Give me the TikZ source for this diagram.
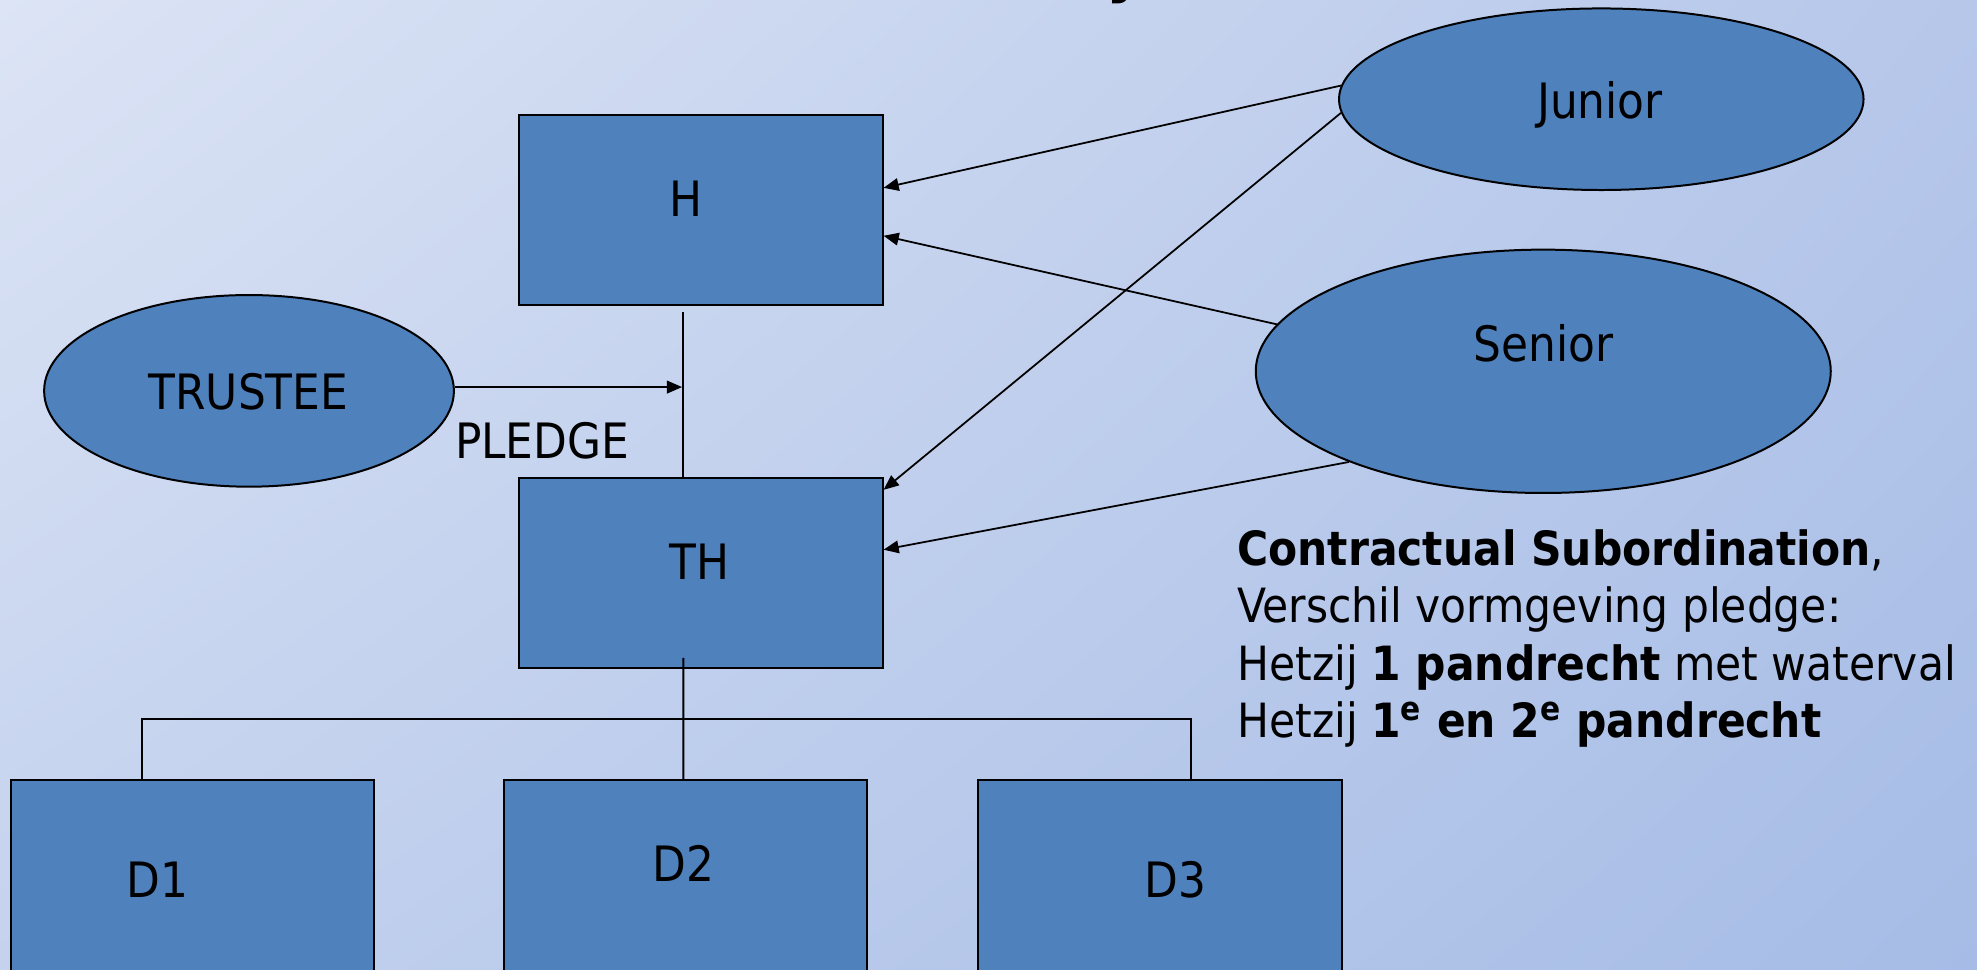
\documentclass[tikz,border=0pt]{standalone}
\usepackage{fontspec}
\setmainfont{DejaVu Sans Condensed}
\usetikzlibrary{shapes.geometric,arrows.meta,shadings}
\definecolor{boxblue}{HTML}{4F81BD}
\definecolor{bgtl}{HTML}{DCE4F5}
\definecolor{bgtr}{HTML}{B6C7EA}
\definecolor{bgbl}{HTML}{C4D2EE}
\definecolor{bgbr}{HTML}{A6BCE6}
\begin{document}
\begin{tikzpicture}[x=0.2mm,y=-0.2mm,
    box/.style={draw=black,line width=0.9pt,fill=boxblue,inner sep=0pt,minimum width=57.6mm},
    oval/.style={ellipse,draw=black,line width=0.9pt,fill=boxblue,inner sep=0pt},
    txt/.style={font=\fontsize{22}{26}\selectfont,inner sep=0pt,anchor=base},
    link/.style={line width=0.8pt},
    arr/.style={link,-{Triangle[length=2.4mm,width=2mm]}}]
  \useasboundingbox (0,0) rectangle (1568,769);
  \clip (0,0) rectangle (1568,769);
  \shade[upper left=bgtl,upper right=bgtr,lower left=bgbl,lower right=bgbr] (0,0) rectangle (1568,769);
  % title, only the tail of it shows
  \node[txt,font=\bfseries\fontsize{30}{36}\selectfont] (title) at (893,-8) {y};
  % boxes
  \node[box,minimum height=30.2mm] (h) at (556,166.5) {};
  \node[box,minimum height=30.2mm] (th) at (556,454.5) {};
  \node[box,minimum height=36.2mm] (d1) at (153,709.5) {};
  \node[box,minimum height=36.2mm] (d2) at (543.5,709.5) {};
  \node[box,minimum height=36.2mm] (d3) at (920,709.5) {};
  % ovals
  \node[oval,minimum width=65mm,minimum height=30.4mm] (trustee) at (197.5,310) {};
  \node[oval,minimum width=83.2mm,minimum height=28.8mm] (junior) at (1270,78.7) {};
  \node[oval,minimum width=91.2mm,minimum height=38.6mm] (senior) at (1224,294.5) {};
  % labels
  \node[txt] (h-t) at (544,172) {H};
  \node[txt] (th-t) at (555,460) {TH};
  \node[txt] (d1-t) at (125,712) {D1};
  \node[txt] (d2-t) at (542,699) {D2};
  \node[txt] (d3-t) at (932,712) {D3};
  \node[txt] (trustee-t) at (197,325) {TRUSTEE};
  \node[txt] (junior-t) at (1269,94) {Junior};
  \node[txt] (senior-t) at (1224,287) {Senior};
  \node[txt] (pledge) at (430,364) {PLEDGE};
  % pledge to the line between H and TH
  \coordinate (pl) at (541,307);
  \draw[link] ([xshift=-2.8mm,yshift=-1mm]h.south) -- ([xshift=-2.8mm]th.north);
  \draw[arr] (trustee.east |- pl) -- (pl);
  % tranches
  \draw[arr] (junior.177) -- ([yshift=3.5mm]h.east);
  \draw[arr] (junior.183) -- ([yshift=13.2mm]th.east);
  \draw[arr] (senior.170) -- ([yshift=-4.1mm]h.east);
  \draw[arr] (senior.205) -- ([yshift=3.7mm]th.east);
  % TH down to the daughters
  \draw[link] ([xshift=-2.8mm,yshift=1.8mm]th.south) -- ([xshift=-0.3mm]d2.north);
  \draw[link] ([xshift=-8.1mm]d1.north) -- ++(0,-48) -| ([xshift=4.9mm]d3.north);
  \node[txt,font=\fontsize{21.3}{25.9}\selectfont,anchor=north west,align=left] (note) at (981,419.5)
    {\textbf{Contractual Subordination},\\
     Verschil vormgeving pledge:\\
     Hetzij \textbf{1 pandrecht} met waterval\\
     Hetzij \textbf{1\textsuperscript{e} en 2\textsuperscript{e} pandrecht}};
\end{tikzpicture}
\end{document}
